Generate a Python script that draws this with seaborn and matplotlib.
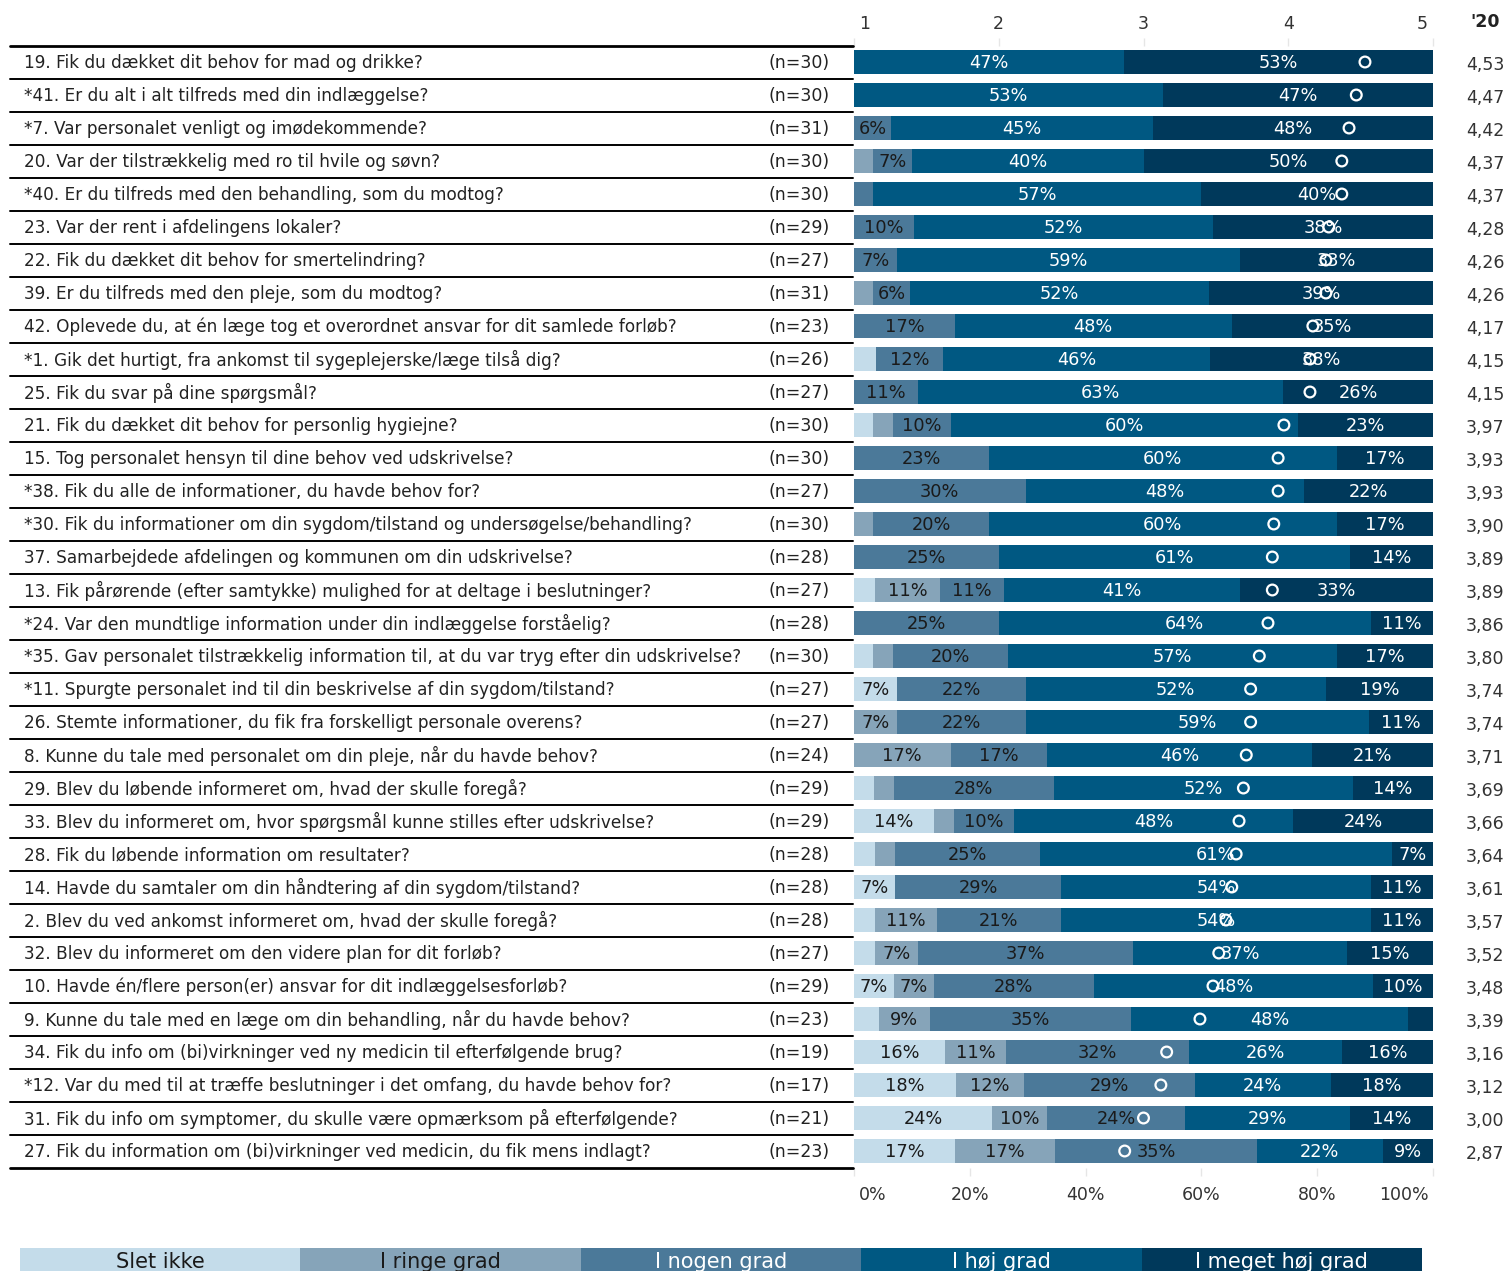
import matplotlib
matplotlib.use("Agg")
import matplotlib.pyplot as plt
import seaborn as sns
import numpy as np
import pandas as pd
from matplotlib.transforms import blended_transform_factory, ScaledTranslation
from matplotlib.lines import Line2D
from matplotlib.patches import Rectangle

questions = [
    "19. Fik du dækket dit behov for mad og drikke?",
    "*41. Er du alt i alt tilfreds med din indlæggelse?",
    "*7. Var personalet venligt og imødekommende?",
    "20. Var der tilstrækkelig med ro til hvile og søvn?",
    "*40. Er du tilfreds med den behandling, som du modtog?",
    "23. Var der rent i afdelingens lokaler?",
    "22. Fik du dækket dit behov for smertelindring?",
    "39. Er du tilfreds med den pleje, som du modtog?",
    "42. Oplevede du, at én læge tog et overordnet ansvar for dit samlede forløb?",
    "*1. Gik det hurtigt, fra ankomst til sygeplejerske/læge tilså dig?",
    "25. Fik du svar på dine spørgsmål?",
    "21. Fik du dækket dit behov for personlig hygiejne?",
    "15. Tog personalet hensyn til dine behov ved udskrivelse?",
    "*38. Fik du alle de informationer, du havde behov for?",
    "*30. Fik du informationer om din sygdom/tilstand og undersøgelse/behandling?",
    "37. Samarbejdede afdelingen og kommunen om din udskrivelse?",
    "13. Fik pårørende (efter samtykke) mulighed for at deltage i beslutninger?",
    "*24. Var den mundtlige information under din indlæggelse forståelig?",
    "*35. Gav personalet tilstrækkelig information til, at du var tryg efter din udskrivelse?",
    "*11. Spurgte personalet ind til din beskrivelse af din sygdom/tilstand?",
    "26. Stemte informationer, du fik fra forskelligt personale overens?",
    "8. Kunne du tale med personalet om din pleje, når du havde behov?",
    "29. Blev du løbende informeret om, hvad der skulle foregå?",
    "33. Blev du informeret om, hvor spørgsmål kunne stilles efter udskrivelse?",
    "28. Fik du løbende information om resultater?",
    "14. Havde du samtaler om din håndtering af din sygdom/tilstand?",
    "2. Blev du ved ankomst informeret om, hvad der skulle foregå?",
    "32. Blev du informeret om den videre plan for dit forløb?",
    "10. Havde én/flere person(er) ansvar for dit indlæggelsesforløb?",
    "9. Kunne du tale med en læge om din behandling, når du havde behov?",
    "34. Fik du info om (bi)virkninger ved ny medicin til efterfølgende brug?",
    "*12. Var du med til at træffe beslutninger i det omfang, du havde behov for?",
    "31. Fik du info om symptomer, du skulle være opmærksom på efterfølgende?",
    "27. Fik du information om (bi)virkninger ved medicin, du fik mens indlagt?",
]
n_resp = [30, 30, 31, 30, 30, 29, 27, 31, 23, 26, 27, 30, 30, 27, 30, 28, 27, 28,
          30, 27, 27, 24, 29, 29, 28, 28, 28, 27, 29, 23, 19, 17, 21, 23]

# answer counts per category (read from the segment shares and n)
slet_ikke    = [0, 0, 0, 0, 0, 0, 0, 0, 0, 1, 0, 1, 0, 0, 0, 0, 1, 0,
                1, 2, 0, 0, 1, 4, 1, 2, 1, 1, 2, 1, 3, 3, 5, 4]
i_ringe      = [0, 0, 0, 1, 0, 0, 0, 1, 0, 0, 0, 1, 0, 0, 1, 0, 3, 0,
                1, 0, 2, 4, 1, 1, 1, 0, 3, 2, 2, 2, 2, 2, 2, 4]
i_nogen      = [0, 0, 2, 2, 1, 3, 2, 2, 4, 3, 3, 3, 7, 8, 6, 7, 3, 7,
                6, 6, 6, 4, 8, 3, 7, 8, 6, 10, 8, 8, 6, 5, 5, 8]
i_hoej       = [14, 16, 14, 12, 17, 15, 16, 16, 11, 12, 17, 18, 18, 13, 18, 17, 11, 18,
                17, 14, 16, 11, 15, 14, 17, 15, 15, 10, 14, 11, 5, 4, 6, 5]
i_meget_hoej = [16, 14, 15, 15, 12, 11, 9, 12, 8, 10, 7, 7, 5, 6, 5, 4, 9, 3,
                5, 5, 3, 5, 4, 7, 2, 3, 3, 4, 3, 1, 3, 3, 3, 2]

score_20 = ["4,53", "4,47", "4,42", "4,37", "4,37", "4,28", "4,26", "4,26", "4,17",
            "4,15", "4,15", "3,97", "3,93", "3,93", "3,90", "3,89", "3,89", "3,86",
            "3,80", "3,74", "3,74", "3,71", "3,69", "3,66", "3,64", "3,61", "3,57",
            "3,52", "3,48", "3,39", "3,16", "3,12", "3,00", "2,87"]

categories = ["Slet ikke", "I ringe grad", "I nogen grad", "I høj grad", "I meget høj grad"]
colors = ["#c4dcea", "#86a4b9", "#4b7999", "#005882", "#00395b"]
text_colors = ["#1a1a1a", "#1a1a1a", "#1a1a1a", "white", "white"]
legend_text_colors = ["#1a1a1a", "#1a1a1a", "white", "white", "white"]
top_ticks = [1, 2, 3, 4, 5]
bottom_ticks = [0, 20, 40, 60, 80, 100]

sns.set_style("white")
plt.rcParams['font.family'] = ['DejaVu Sans']

W, H = 1506, 1271
fig = plt.figure(figsize=(W / 100, H / 100), dpi=100)

def fx(px):
    return px / W

def fy(py):
    return 1 - py / H

top_px, bot_px = 45.5, 1167.5
ax = fig.add_axes([fx(854), fy(bot_px), (1433 - 854) / W, (bot_px - top_px) / H])

counts = np.array([slet_ikke, i_ringe, i_nogen, i_hoej, i_meget_hoej], dtype=float)
pct = counts / np.array(n_resp, dtype=float) * 100
cum = np.cumsum(pct, axis=0)
rows = np.arange(len(questions))

for k in range(4, -1, -1):
    df = pd.DataFrame({"row": rows, "value": cum[k]})
    sns.barplot(data=df, x="value", y="row", orient="h", color=colors[k],
                saturation=1, width=0.75, ax=ax, linewidth=0, edgecolor="none")

FS = 12.5
QFS = 12.15
for i in rows:
    for k in range(5):
        p = pct[k, i]
        if p >= 5:
            ax.text(cum[k, i] - p / 2, i + 0.03, f"{p:.0f}%", ha="center", va="center",
                    fontsize=12.8, color=text_colors[k])

# mean marker (1-5 scale mapped onto bar width)
mean_vals = [float(s.replace(",", ".")) for s in score_20]
mk = pd.DataFrame({"x": [(m - 1) / 4 * 100 for m in mean_vals], "row": rows})
sns.scatterplot(data=mk, x="x", y="row", ax=ax, marker="o", s=60,
                facecolors="none", edgecolors="white", linewidth=1.6, zorder=5, legend=False)

ax.set_xlim(0, 100)
ax.set_ylim(len(questions) - 0.5, -0.5)
ax.set_ylabel("")
ax.set_xlabel("")
ax.set_yticks([])
for s in ax.spines.values():
    s.set_visible(False)
ax.set_xticks(bottom_ticks)
ax.set_xticklabels([f"{t}%" for t in bottom_ticks])
ax.tick_params(axis="x", bottom=True, direction="out", length=6, width=1,
               color="#e6e6e6", labelsize=FS, labelcolor="#333333", pad=7)
xt = ax.get_xticklabels()
xt[0].set_ha("left")
xt[-1].set_ha("right")
xt[0].set_transform(xt[0].get_transform() + ScaledTranslation(5 / 100, 0, fig.dpi_scale_trans))
xt[-1].set_transform(xt[-1].get_transform() + ScaledTranslation(-4 / 100, 0, fig.dpi_scale_trans))

ax2 = ax.twiny()
ax2.set_xlim(1, 5)
ax2.set_xticks(top_ticks)
ax2.set_xticklabels([str(t) for t in top_ticks])
ax2.tick_params(axis="x", top=True, direction="out", length=6, width=1,
                color="#e6e6e6", labelsize=FS, labelcolor="#333333", pad=3)
for s in ax2.spines.values():
    s.set_visible(False)
tt = ax2.get_xticklabels()
tt[0].set_ha("left")
tt[-1].set_ha("right")
tt[0].set_transform(tt[0].get_transform() + ScaledTranslation(5 / 100, 0, fig.dpi_scale_trans))
tt[-1].set_transform(tt[-1].get_transform() + ScaledTranslation(-5 / 100, 0, fig.dpi_scale_trans))

tr = blended_transform_factory(fig.transFigure, ax.transData)
for i, q in enumerate(questions):
    ax.text(fx(24), i + 0.03, q, transform=tr, ha="left", va="center", fontsize=QFS,
            color="#222222")
    ax.text(fx(768), i + 0.03, f"(n={n_resp[i]})", transform=tr, ha="left", va="center",
            fontsize=FS, color="#222222")
    ax.text(fx(1485), i + 0.1, score_20[i], transform=tr, ha="center", va="center",
            fontsize=FS, color="#333333")

for j, yb in enumerate(np.arange(-0.5, len(questions), 1.0)):
    lw = 2.0 if j in (0, len(questions)) else 1.4
    fig.add_artist(Line2D([fx(10), fx(853)], [yb, yb], transform=tr, color="black",
                          lw=lw, clip_on=False))

fig.text(fx(1485), fy(22), "'20", ha="center", va="center", fontsize=FS,
         fontweight="bold", color="#222222")

# legend
lx0, lx1 = 20, 1422
bw = (lx1 - lx0) / 5
for k, c in enumerate(categories):
    fig.add_artist(Rectangle((fx(lx0 + k * bw), fy(1285)), bw / W, (1285 - 1248) / H,
                             transform=fig.transFigure, facecolor=colors[k],
                             edgecolor="none", clip_on=False))
    fig.text(fx(lx0 + k * bw + bw / 2), fy(1262), c, ha="center", va="center",
             fontsize=15, color=legend_text_colors[k])

fig.savefig("out.png", dpi=100)
